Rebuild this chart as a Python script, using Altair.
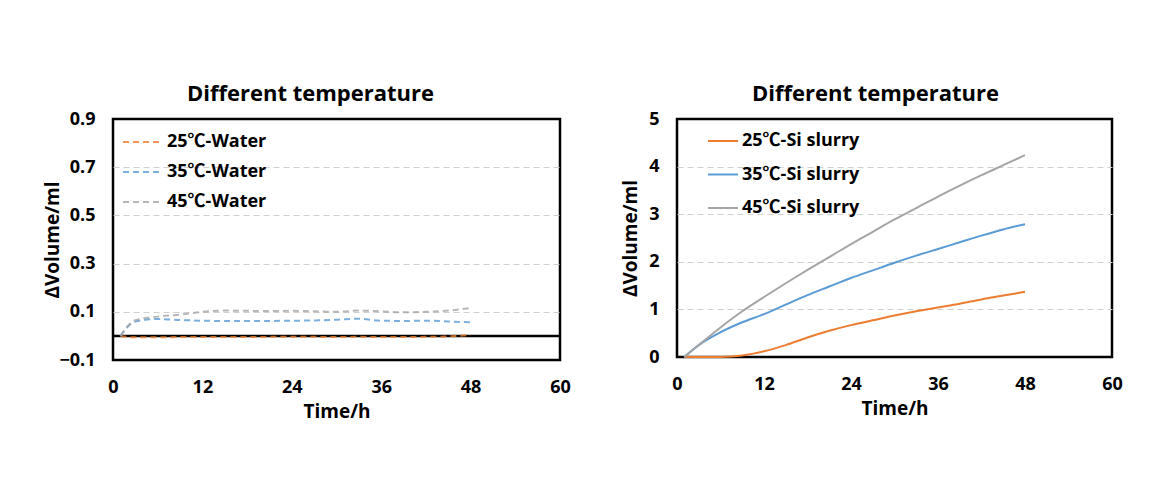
import altair as alt
import pandas as pd

hours = [1, 3, 6, 9, 12, 15, 18, 21, 24, 27, 30, 33, 36, 39, 42, 45, 48]

water_25 = [0.0, -0.006, -0.006, -0.005, -0.005, -0.005, -0.005, -0.004, -0.004,
            -0.004, -0.005, -0.004, -0.005, -0.005, -0.004, -0.002, 0.004]
water_35 = [0.0, 0.06, 0.07, 0.066, 0.063, 0.062, 0.062, 0.062, 0.063,
            0.064, 0.067, 0.071, 0.063, 0.062, 0.063, 0.06, 0.056]
water_45 = [0.0, 0.065, 0.08, 0.088, 0.1, 0.105, 0.104, 0.103, 0.104,
            0.102, 0.1, 0.105, 0.102, 0.098, 0.1, 0.105, 0.116]

si_25 = [0.0, 0.0, 0.0, 0.03, 0.12, 0.25, 0.41, 0.55, 0.67, 0.77, 0.87, 0.96,
         1.04, 1.12, 1.21, 1.29, 1.37]
si_35 = [0.0, 0.25, 0.52, 0.73, 0.9, 1.1, 1.3, 1.48, 1.66, 1.82, 1.98, 2.13,
         2.27, 2.41, 2.55, 2.68, 2.79]
si_45 = [0.0, 0.25, 0.62, 0.96, 1.26, 1.55, 1.83, 2.1, 2.37, 2.63, 2.89, 3.13,
         3.37, 3.6, 3.82, 4.03, 4.24]

water_names = ["25℃-Water", "35℃-Water", "45℃-Water"]
si_names = ["25℃-Si slurry", "35℃-Si slurry", "45℃-Si slurry"]
colors = ["#ED7D31", "#5B9BD5", "#A5A5A5"]

x_ticks = [0, 12, 24, 36, 48, 60]
y_ticks_left = [-0.1, 0.1, 0.3, 0.5, 0.7, 0.9]
y_ticks_right = [0, 1, 2, 3, 4, 5]

def long_df(names, series):
    rows = []
    for n, s in zip(names, series):
        for h, v in zip(hours, s):
            rows.append({"Time": h, "Value": v, "Series": n})
    return pd.DataFrame(rows)

df_w = long_df(water_names, [water_25, water_35, water_45])
df_s = long_df(si_names, [si_25, si_35, si_45])

FONT = "Open Sans, Noto Sans CJK SC, DejaVu Sans"

def x_enc():
    return alt.X("Time:Q", scale=alt.Scale(domain=[0, 60], nice=False),
                 axis=alt.Axis(values=x_ticks, title="Time/h", grid=False, domain=False,
                               ticks=False, tickSize=0, labelPadding=18, titlePadding=6,
                               labelFlush=False))

left_lines = alt.Chart(df_w).mark_line(strokeDash=[6, 4], strokeWidth=2, opacity=0.8,
                                        interpolate="monotone").encode(
    x=x_enc(),
    y=alt.Y("Value:Q", scale=alt.Scale(domain=[-0.1, 0.9], nice=False, zero=False),
            axis=alt.Axis(values=y_ticks_left, format=".1f", title="ΔVolume/ml",
                          grid=True, domain=False, ticks=False, tickSize=0,
                          labelPadding=18, titlePadding=-4,
                          gridOpacity=alt.condition("datum.value < -0.05 || datum.value > 0.85",
                                                    alt.value(0), alt.value(1)))),
    color=alt.Color("Series:N", scale=alt.Scale(domain=water_names, range=colors),
                    legend=alt.Legend(title=None, orient="none", legendX=9, legendY=2,
                                      symbolType="stroke", symbolSize=1600,
                                      symbolDash=[6, 4], symbolStrokeWidth=2,
                                      symbolOpacity=0.8, rowPadding=0, labelOffset=3,
                                      padding=0)),
)

zero_rule = alt.Chart(pd.DataFrame({"y": [0]})).mark_rule(color="black", strokeWidth=2.5).encode(
    y=alt.Y("y:Q"))

left = alt.layer(zero_rule, left_lines).properties(
    width=447, height=241,
    title=alt.TitleParams("Different temperature", anchor="middle", frame="group",
                          dx=-26, dy=30, offset=17, baseline="alphabetic"),
)

right_lines = alt.Chart(df_s).mark_line(strokeWidth=2, interpolate="monotone").encode(
    x=x_enc(),
    y=alt.Y("Value:Q", scale=alt.Scale(domain=[0, 5], nice=False),
            axis=alt.Axis(values=y_ticks_right, format="d", title="ΔVolume/ml",
                          grid=True, domain=False, ticks=False, tickSize=0,
                          labelPadding=18, titlePadding=8,
                          gridOpacity=alt.condition("datum.value < 0.5 || datum.value > 4.5",
                                                    alt.value(0), alt.value(1)))),
    color=alt.Color("Series:N", scale=alt.Scale(domain=si_names, range=colors),
                    legend=alt.Legend(title=None, orient="none", legendX=30, legendY=6,
                                      symbolType="stroke", symbolSize=900,
                                      symbolStrokeWidth=2, rowPadding=8.5, labelOffset=3,
                                      padding=0)),
)

right = right_lines.properties(
    width=435, height=238,
    title=alt.TitleParams("Different temperature", anchor="middle", frame="group",
                          dx=-19, dy=30, offset=17, baseline="alphabetic"),
)

chart = alt.hconcat(left, right, spacing=48).resolve_scale(
    color="independent", y="independent"
).properties(
    padding={"left": 34, "top": 73, "right": 5, "bottom": 5},
    background="white",
).configure_view(
    stroke="black", strokeWidth=2.5
).configure_axis(
    labelFont=FONT, labelFontSize=18, labelFontWeight="bold", labelColor="black",
    titleFont=FONT, titleFontSize=19, titleFontWeight="bold", titleColor="black",
    gridColor="#d0d0d0", gridDash=[6, 4], gridWidth=1,
).configure_legend(
    labelFont=FONT, labelFontSize=18, labelFontWeight="bold", labelColor="black",
).configure_title(
    font=FONT, fontSize=22, fontWeight="bold", color="black",
)

chart.save("out.html", embed_options={"renderer": "svg", "actions": False})
